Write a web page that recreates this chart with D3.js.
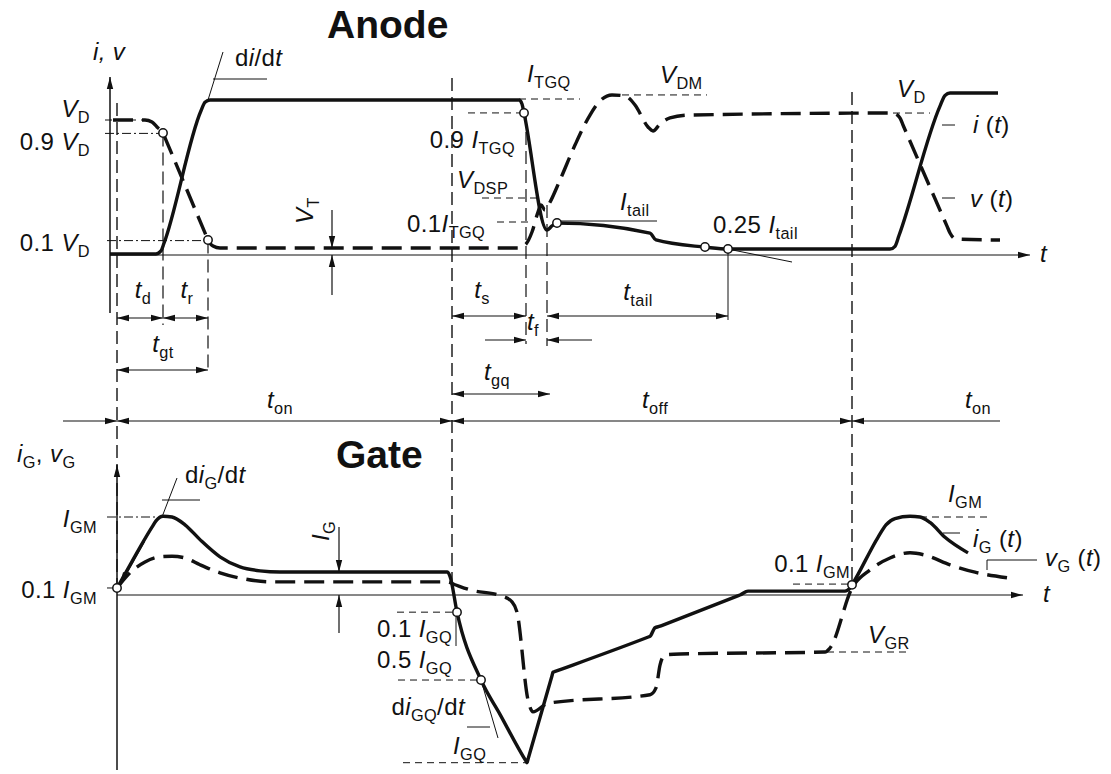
<!DOCTYPE html>
<html>
<head>
<meta charset="utf-8">
<script src="https://cdn.jsdelivr.net/npm/d3@7"></script>
<style>
  body { margin: 0; background: #fff; }
  svg { display: block; font-family: "Liberation Sans", Arial, sans-serif; }
</style>
</head>
<body>
<svg id="chart_svg" width="1111" height="774"></svg>
<script>
// ---- waveform data: [time, level] (time in arbitrary units, levels normalised) ----
// Anode current i(t), 1 = on-state current
var anode_i = [[0,0],[4.6,0],[5.1,0.02],[5.4,0.07],[9.1,0.93],[9.5,0.985],[10.0,1.0],[40.9,1.0],[41.2,0.974],
               [41.4,0.916],[43.7,0.156],[44.2,0.182],[44.7,0.201],[54.0,0.136],[54.6,0.091],[59.5,0.045],
               [61.8,0.032],[78.0,0.032],[78.5,0.05],[78.9,0.12],[83.0,0.96],[83.5,1.03],[84.0,1.045],[88.8,1.045]];
// Anode voltage v(t), 1 = V_D
var anode_v = [[0.3,1.0],[3.5,1.0],[4.2,0.985],[4.7,0.948],[5.3,0.903],[5.6,0.85],[9.5,0.157],[9.8,0.104],
               [10.3,0.06],[11.0,0.045],[40.8,0.045],[41.6,0.075],[42.2,0.164],[42.8,0.313],[43.1,0.366],
               [43.5,0.328],[43.9,0.373],[45.0,0.552],[46.5,0.813],[48.0,1.037],[49.0,1.142],[50.2,1.187],
               [51.5,1.179],[52.5,1.112],[53.8,0.948],[54.3,0.918],[55.0,0.97],[56.0,1.015],[58.0,1.037],
               [78.3,1.052],[79.0,1.015],[79.3,0.963],[83.7,0.208],[84.0,0.157],[84.6,0.112],[89.0,0.104]];
// Gate current i_G(t), 1 = I_GM
var gate_i = [[0.7,0.09],[1.0,0.157],[4.2,0.87],[4.6,0.95],[5.3,1.01],[6.2,1.0],[7.5,0.9],[9.0,0.71],
              [11.0,0.49],[13.0,0.36],[15.0,0.31],[17.0,0.295],[33.7,0.295],[34.0,0.24],[34.7,-0.22],
              [37.1,-1.09],[39.0,-1.53],[41.6,-2.13],[41.7,-2.15],[41.8,-2.105],[44.2,-1.035],[44.3,-0.99],
              [44.45,-0.983],[53.9,-0.535],[54.0,-0.53],[54.5,-0.42],[55.0,-0.4],[55.1,-0.395],[62.9,-0.005],
              [63.0,0.0],[63.8,0.05],[73.5,0.05],[74.0,0.09],[74.2,0.13],[76.8,0.74],[77.6,0.9],[78.5,0.98],
              [80.0,1.01],[81.0,1.0],[82.0,0.93],[83.5,0.74],[85.8,0.54]];
// Gate voltage v_G(t), -1 = V_GR
var gate_v = [[0.7,0.12],[2.0,0.39],[3.5,0.58],[5.0,0.67],[6.2,0.68],[7.5,0.65],[9.0,0.53],[11.0,0.39],
              [13.5,0.28],[16.0,0.23],[33.7,0.23],[34.5,0.18],[36.0,0.09],[39.2,-0.02],[40.2,-0.12],
              [40.7,-0.3],[41.8,-1.84],[42.3,-2.05],[43.8,-1.9],[54.0,-1.75],[54.6,-1.63],[55.0,-1.23],
              [55.5,-1.05],[57.0,-1.035],[71.5,-1.0],[72.0,-0.93],[74.2,0.12],[76.0,0.44],[78.0,0.65],
              [80.0,0.74],[81.5,0.7],[84.0,0.53],[86.5,0.4],[89.8,0.3]];

// measuring points (small open circles)
var anode_pts_v = [[5.3,0.903],[9.8,0.104]];
var anode_pts_i = [[41.4,0.916],[44.7,0.201],[59.5,0.045],[61.8,0.032]];
var gate_pts_i = [[0.7,0.09],[34.7,-0.22],[37.1,-1.09],[74.2,0.13]];

// switching instants
var t_on1 = 0.7, t_d = 5.3, t_r = 9.8, t_off = 34.2, t_s = 41.6, t_f = 43.7, t_tail = 61.8, t_on2 = 74.2;

// ---- scales ----
var x = d3.scaleLinear().domain([0, 92]).range([110, 1030]);
var yI = d3.scaleLinear().domain([0, 1]).range([254, 100]);
var yV = d3.scaleLinear().domain([0, 1]).range([254, 120]);
var yIG = d3.scaleLinear().domain([0, 1]).range([595, 517]);
var yVG = d3.scaleLinear().domain([0, -1]).range([595, 652]);

var ink = '#111';
var base = d3.select('#chart_svg');
base.append('rect').attr('width', 1111).attr('height', 774).attr('fill', '#fff');

// arrow head marker
base.append('defs').append('marker')
    .attr('id', 'arr')
    .attr('viewBox', '0 0 12 8')
    .attr('refX', 12).attr('refY', 4)
    .attr('markerWidth', 12).attr('markerHeight', 8)
    .attr('markerUnits', 'userSpaceOnUse')
    .attr('orient', 'auto-start-reverse')
  .append('path').attr('d', 'M0,0.8 L12,4 L0,7.2 z').attr('fill', ink);

var g = base.append('g');

function seg(x1, y1, x2, y2, style, arrows) {
    var l = g.append('line')
        .attr('x1', x1).attr('y1', y1).attr('x2', x2).attr('y2', y2)
        .attr('stroke', ink).attr('stroke-width', 1.2);
    if (style == 'dash') l.attr('stroke-dasharray', '7 5').attr('stroke-width', 1);
    if (style == 'long') l.attr('stroke-dasharray', '13 6').attr('stroke-width', 1.4);
    if (style == 'dot') l.attr('stroke-dasharray', '9 3 2 3').attr('stroke-width', 1);
    if (style == 'thin') l.attr('stroke-width', 1);
    if (arrows == 'both' || arrows == 'start') l.attr('marker-start', 'url(#arr)');
    if (arrows == 'both' || arrows == 'end') l.attr('marker-end', 'url(#arr)');
    return l;
}

// text with italic / subscript parts
function label(px, py, parts, anchor, size, rot) {
    var t = g.append('text')
        .attr('x', px).attr('y', py)
        .attr('font-size', size || 24)
        .attr('letter-spacing', 0.4)
        .attr('text-anchor', anchor || 'start')
        .attr('fill', ink);
    if (rot) t.attr('transform', 'rotate(' + rot + ',' + px + ',' + py + ')');
    var shift = 0;
    parts.forEach(function (p) {
        var kind = p[1] || '';
        var s = t.append('tspan').text(p[0]);
        if (kind.indexOf('i') >= 0) s.attr('font-style', 'italic');
        var want = kind.indexOf('s') >= 0 ? 6 : 0;
        if (want != shift) { s.attr('dy', want - shift); shift = want; }
        if (want) s.attr('font-size', '0.68em');
    });
    return t;
}

function wave(data, ys, dashed) {
    g.append('path')
        .datum(data)
        .attr('fill', 'none')
        .attr('stroke', ink)
        .attr('stroke-width', 3.4)
        .attr('stroke-linejoin', 'round')
        .attr('stroke-dasharray', dashed ? '20 9' : null)
        .attr('d', d3.line()
            .x(function (d) { return x(d[0]); })
            .y(function (d) { return ys(d[1]); })
            .curve(d3.curveMonotoneX));
}

function points(data, ys) {
    g.selectAll(null).data(data).enter().append('circle')
        .attr('cx', function (d) { return x(d[0]); })
        .attr('cy', function (d) { return ys(d[1]); })
        .attr('r', 4.2)
        .attr('fill', '#fff').attr('stroke', ink).attr('stroke-width', 1.5);
}

// ================= ANODE =================
// axes
seg(x(0), 313, x(0), 77, 'solid', 'end').attr('stroke-width', 1.5);
seg(x(0), yI(0) + 1, 1030, yI(0) + 1, 'thin', 'end');
g.append('text').attr('x', 327).attr('y', 38).attr('font-size', 39)
    .attr('font-weight', 'bold').attr('fill', ink).text('Anode');
label(93, 60, [['i, v', 'i']]);
label(1040, 262, [['t', 'i']]);

// long boundary lines
seg(x(t_on1), 103, x(t_on1), yIG(0.09), 'long');
seg(x(t_off), 78, x(t_off), 590, 'long');
seg(x(t_on2), 92, x(t_on2), yIG(0.13), 'long');

// turn-on references
seg(105, yV(1), x(4.0), yV(1), 'dash');
seg(105, yV(0.9), x(t_d), yV(0.9), 'dot');
seg(107, yV(0.1), x(t_r), yV(0.1), 'dot');
label(90, 117, [['V', 'i'], ['D', 's']], 'end');
label(90, 150, [['0.9 '], ['V', 'i'], ['D', 's']], 'end');
label(90, 251, [['0.1 '], ['V', 'i'], ['D', 's']], 'end');
seg(x(t_d), yV(0.9), x(t_d), 325, 'long').attr('stroke-width', 1.2);
seg(x(t_r), yV(0.1), x(t_r), 372, 'long').attr('stroke-width', 1.2);
seg(x(t_on1), 318, x(t_d), 318, 'solid', 'both');
seg(x(t_d), 318, x(t_r), 318, 'solid', 'both');
seg(x(t_on1), 370, x(t_r), 370, 'solid', 'both');
label(143, 298, [['t', 'i'], ['d', 's']], 'middle');
label(187, 298, [['t', 'i'], ['r', 's']], 'middle');
label(163, 352, [['t', 'i'], ['gt', 's']], 'middle');

// di/dt
seg(x(9.8), yI(1), 223, 52, 'thin');
seg(213, 79, 267, 79, 'thin');
label(235, 66, [['d'], ['i', 'i'], ['/d'], ['t', 'i']]);

// V_T
seg(332, 210, 332, yV(0.045), 'solid', 'end');
seg(332, 295, 332, yI(0) + 1, 'solid', 'end');
label(313, 224, [['V', 'i'], ['T', 's']], 'start', 24, -90);

// turn-off references
seg(x(40.9), yI(1) - 1, 580, yI(1) - 1, 'dash');
seg(468, yI(0.916), x(41.4), yI(0.916), 'dash');
seg(482, 198, 537, 198, 'dash');
seg(497, 222, 530, 222, 'dash');
seg(610, yV(1.187), 707, yV(1.187), 'dash');
label(527, 82, [['I', 'i'], ['TGQ', 's']]);
label(660, 83, [['V', 'i'], ['DM', 's']]);
label(515, 148, [['0.9 '], ['I', 'i'], ['TGQ', 's']], 'end');
label(457, 188, [['V', 'i'], ['DSP', 's']]);
label(407, 232, [['0.1'], ['I', 'i'], ['TGQ', 's']]);
seg(x(44.7), 221, 657, 221, 'thin');
label(620, 210, [['I', 'i'], ['tail', 's']]);
seg(x(61.8), yI(0.032), 792, 262, 'thin');
label(713, 233, [['0.25 '], ['I', 'i'], ['tail', 's']]);

seg(x(t_s), yI(0.916), x(t_s), 344, 'long').attr('stroke-width', 1.2);
seg(x(t_f), 205, x(t_f), 346, 'long').attr('stroke-width', 1.2);
seg(x(t_tail), yI(0.032), x(t_tail), 320, 'thin');
seg(x(t_off), 316, x(t_s), 316, 'solid', 'both');
seg(x(t_f), 316, x(t_tail), 316, 'solid', 'both');
seg(485, 340, x(t_s), 340, 'solid', 'end');
seg(592, 340, x(t_f), 340, 'solid', 'end');
seg(x(t_off), 394, 550, 394, 'solid', 'both');
label(482, 298, [['t', 'i'], ['s', 's']], 'middle');
label(527, 330, [['t', 'i'], ['f', 's']]);
label(638, 300, [['t', 'i'], ['tail', 's']], 'middle');
label(497, 380, [['t', 'i'], ['gq', 's']], 'middle');

// turn-on (right) references
seg(893, yV(1.052), 930, yV(1.052), 'dash');
label(897, 97, [['V', 'i'], ['D', 's']]);
seg(942, 125, 955, 125, 'thin');
seg(942, 198, 955, 198, 'thin');
label(973, 133, [['i', 'i'], [' ('], ['t', 'i'], [')']]);
label(970, 207, [['v', 'i'], [' ('], ['t', 'i'], [')']]);

// waveforms
wave(anode_v, yV, true);
wave(anode_i, yI, false);
points(anode_pts_v, yV);
points(anode_pts_i, yI);

// ================= TIME LINE =================
seg(63, 421, x(t_on1), 421, 'solid', 'end');
seg(x(t_on1), 421, x(t_off), 421, 'solid', 'both');
seg(x(t_off), 421, x(t_on2), 421, 'solid', 'both');
seg(x(t_on2), 421, 1000, 421, 'solid', 'start');
label(280, 408, [['t', 'i'], ['on', 's']], 'middle');
label(655, 408, [['t', 'i'], ['off', 's']], 'middle');
label(978, 408, [['t', 'i'], ['on', 's']], 'middle');

// ================= GATE =================
seg(117, 770, 117, 465, 'solid', 'end').attr('stroke-width', 1.5);
seg(117, yIG(0), 1023, yIG(0), 'thin', 'end');
g.append('text').attr('x', 336).attr('y', 468).attr('font-size', 39)
    .attr('font-weight', 'bold').attr('fill', ink).text('Gate');
label(17, 462, [['i', 'i'], ['G', 's'], [', '], ['v', 'i'], ['G', 's']]);
label(1043, 602, [['t', 'i']]);

seg(107, yIG(1), x(4.7), yIG(1), 'dot');
seg(107, yIG(0.09), 117, yIG(0.09), 'dot');
label(97, 527, [['I', 'i'], ['GM', 's']], 'end');
label(97, 598, [['0.1 '], ['I', 'i'], ['GM', 's']], 'end');
seg(162, yIG(1), 177, 478, 'thin');
seg(162, 500, 200, 500, 'thin');
seg(x(3.4), yIG(0.69), x(1.0), yIG(0.14), 'solid', 'end').attr('stroke-width', 2.5);
label(185, 483, [['d'], ['i', 'i'], ['G', 's'], ['/d'], ['t', 'i']]);

// I_G
seg(339, 527, 339, yIG(0.295), 'solid', 'end');
seg(339, 633, 339, yIG(0), 'solid', 'end');
label(329, 541, [['I', 'i'], ['G', 's']], 'start', 24, -90);

// turn-off references
seg(397, yIG(-0.22), x(34.7), yIG(-0.22), 'dash');
seg(x(34.6), yIG(-0.22), x(34.6), 646, 'thin');
seg(398, yIG(-1.09), x(37.1), yIG(-1.09), 'dash');
seg(403, yIG(-2.15), x(41.7), yIG(-2.15), 'dash');
seg(467, 727, 490, 727, 'thin');
seg(x(37.1), yIG(-1.09), 498, 738, 'thin');
label(452, 637, [['0.1 '], ['I', 'i'], ['GQ', 's']], 'end');
label(452, 668, [['0.5 '], ['I', 'i'], ['GQ', 's']], 'end');
label(465, 715, [['d'], ['i', 'i'], ['GQ', 's'], ['/d'], ['t', 'i']], 'end');
label(453, 754, [['I', 'i'], ['GQ', 's']]);

// turn-on (right) references
seg(920, yIG(1), 987, yIG(1), 'dash');
seg(793, yIG(0.14), x(t_on2), yIG(0.14), 'dash');
seg(827, yVG(-1), 907, yVG(-1), 'dash');
seg(943, 533, 960, 533, 'thin');
seg(987, 560, 1037, 560, 'thin');
seg(987, 560, 987, 570, 'thin');
label(948, 502, [['I', 'i'], ['GM', 's']]);
label(850, 572, [['0.1 '], ['I', 'i'], ['GM', 's']], 'end');
label(868, 643, [['V', 'i'], ['GR', 's']]);
label(973, 547, [['i', 'i'], ['G', 's'], [' ('], ['t', 'i'], [')']]);
label(1045, 566, [['v', 'i'], ['G', 's'], [' ('], ['t', 'i'], [')']]);

// waveforms
wave(gate_v, yVG, true);
wave(gate_i, yIG, false);
points(gate_pts_i, yIG);
</script>
</body>
</html>
